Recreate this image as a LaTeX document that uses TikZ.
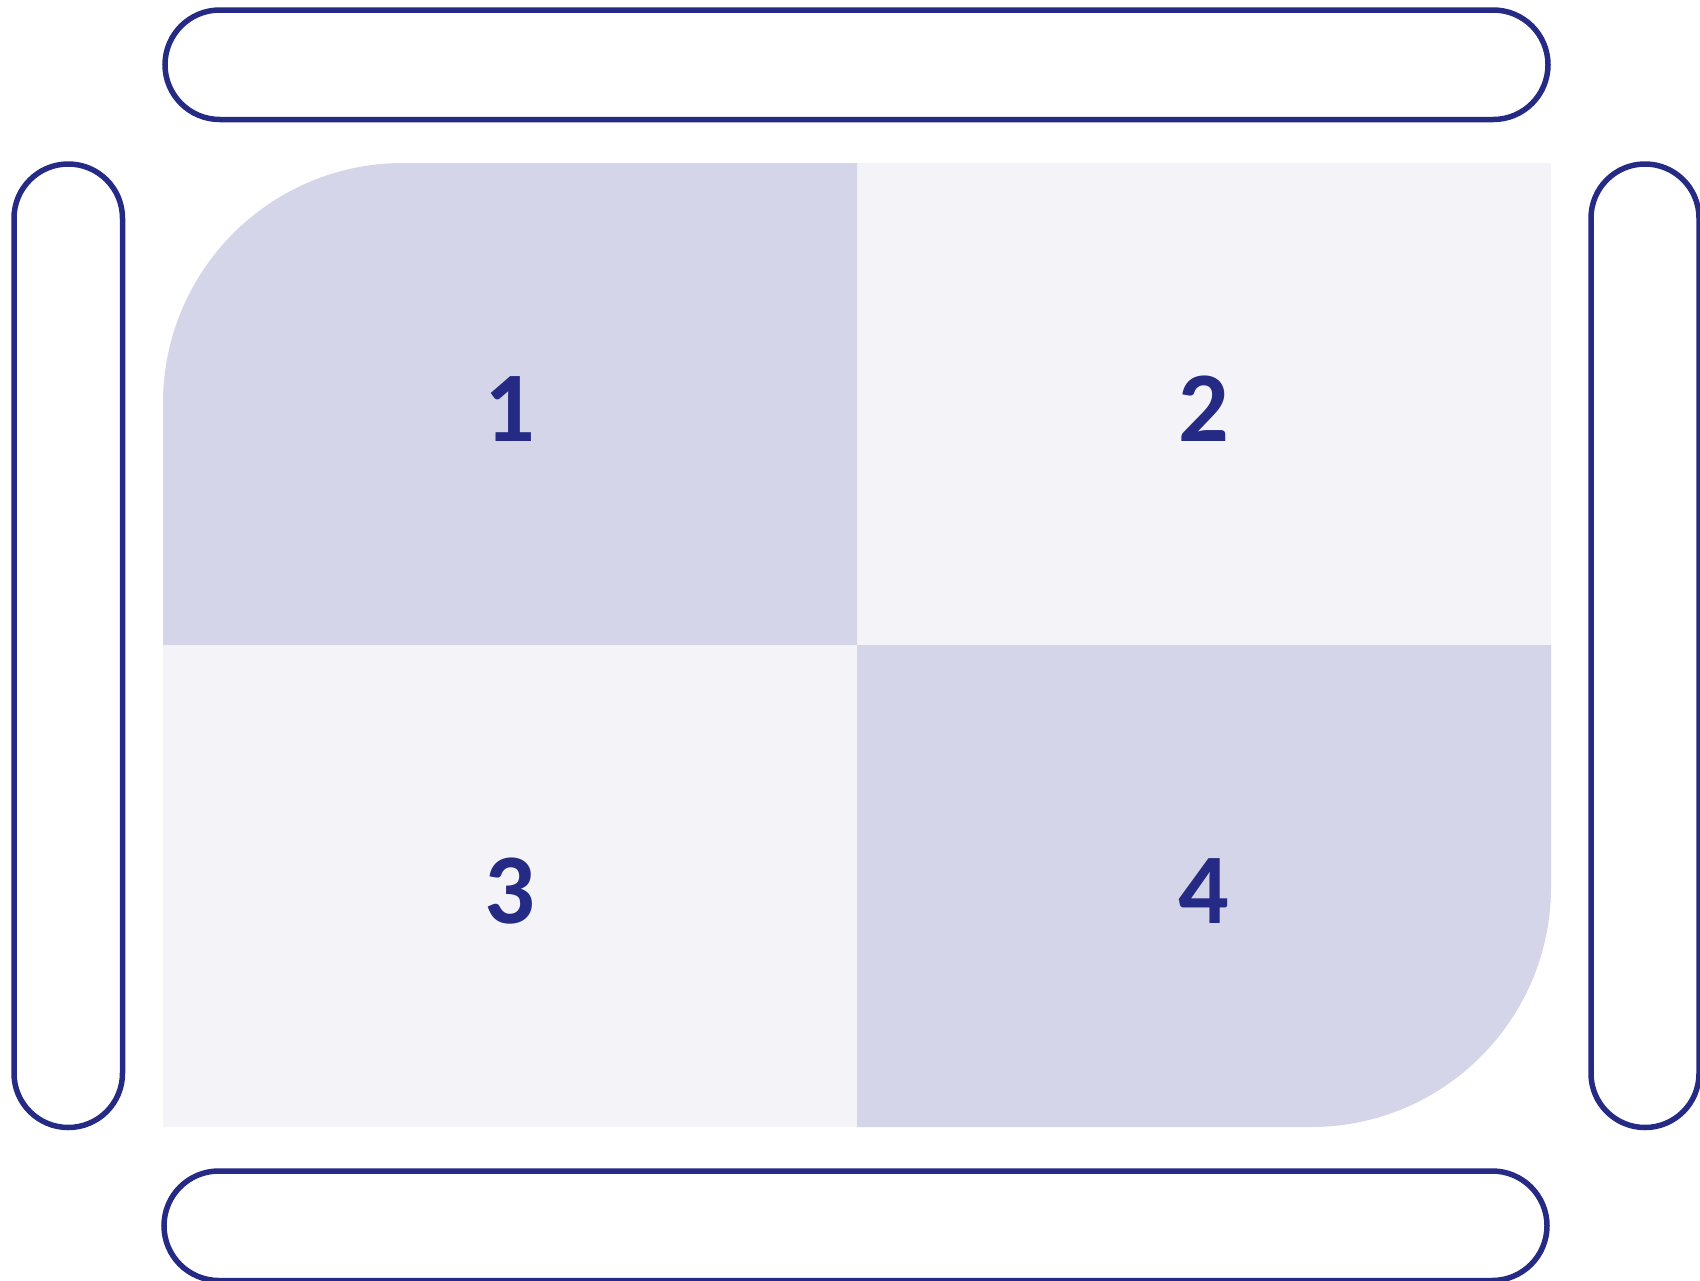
\documentclass[tikz,border=0pt]{standalone}
\usepackage{fontspec}
\setmainfont{Carlito}
\definecolor{navy}{RGB}{37,42,133}
\definecolor{panedark}{RGB}{212,213,232}
\definecolor{panelight}{RGB}{243,243,248}

\begin{document}
\begin{tikzpicture}[x=1pt, y=-1pt,
  pill/.style={draw=navy, line width=5.5pt, inner sep=0pt},
  num/.style={text=navy, font=\fontsize{100}{100}\selectfont\bfseries, anchor=base, inner sep=0pt}
]
\useasboundingbox (0,0) rectangle (1700,1280);
% panes
\fill[panelight] (857,163) rectangle (1551,645);
\fill[panelight] (163,645) rectangle (857,1127);
\fill[panedark] (163,645) [rounded corners=240pt] -- (163,163) [sharp corners] -- (857,163) -- (857,645) -- cycle;
\fill[panedark] (857,645) -- (1551,645) [rounded corners=240pt] -- (1551,1127) [sharp corners] -- (857,1127) -- cycle;
% numbers
\node[num] (one) at (510,441) {1};
\node[num] (two) at (1204,441) {2};
\node[num] (three) at (510,923) {3};
\node[num] (four) at (1204,923) {4};
% frames round the panes
\node[pill, minimum width=1383pt, minimum height=109.5pt, rounded corners=54.75pt] (toppill) at (856.5,64.75) {};
\node[pill, minimum width=108.5pt, minimum height=963.5pt, rounded corners=54.25pt] (leftpill) at (68.25,645.75) {};
\node[pill, minimum width=108pt, minimum height=963.5pt, rounded corners=54pt] (rightpill) at (1645,645.75) {};
\node[pill, minimum width=1383pt, minimum height=109.5pt, rounded corners=54.75pt] (bottompill) at (855.5,1225.75) {};
\end{tikzpicture}
\end{document}
